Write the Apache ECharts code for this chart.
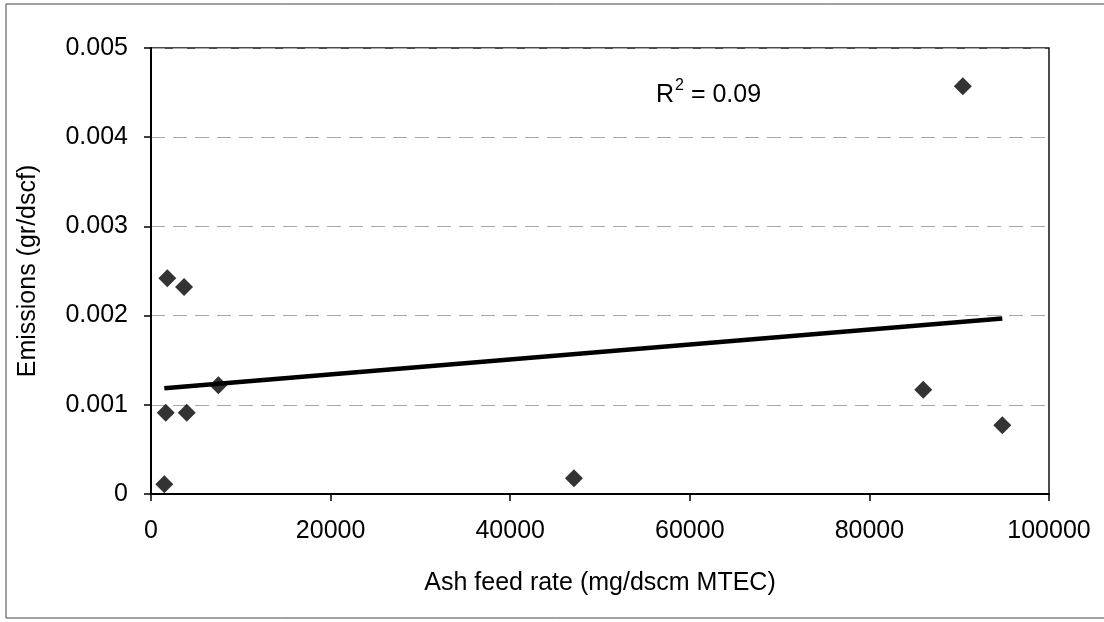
<!DOCTYPE html>
<html>
<head>
<meta charset="utf-8">
<style>
  html, body { margin: 0; padding: 0; background: #fff; }
  #chart { width: 1104px; height: 622px; }
</style>
<script src="https://cdn.jsdelivr.net/npm/echarts@6/dist/echarts.min.js"></script>
</head>
<body>
<div id="chart"></div>
<script>
// Ash feed rate (mg/dscm MTEC) and measured emissions (gr/dscf)
const ashFeed = [1480, 1640, 1820, 3680, 3980, 7500, 47100, 86000, 90400, 94800];
const emissions = [0.00011, 0.00091, 0.00242, 0.00232, 0.00091, 0.00122, 0.000176, 0.00117, 0.00457, 0.00077];

const xTicks = ['0', '20000', '40000', '60000', '80000', '100000'];
const yTicks = ['0', '0.001', '0.002', '0.003', '0.004', '0.005'];
const rSquaredText = '0.09';

// Least-squares linear trendline spanning the data's x range
function linearFit(xs, ys) {
  const n = xs.length;
  const mx = xs.reduce((a, b) => a + b, 0) / n;
  const my = ys.reduce((a, b) => a + b, 0) / n;
  let sxy = 0, sxx = 0;
  for (let i = 0; i < n; i++) {
    sxy += (xs[i] - mx) * (ys[i] - my);
    sxx += (xs[i] - mx) * (xs[i] - mx);
  }
  const slope = sxy / sxx;
  return { slope, intercept: my - slope * mx };
}
const fit = linearFit(ashFeed, emissions);
const xMin = Math.min(...ashFeed), xMax = Math.max(...ashFeed);
const trend = [xMin, xMax].map(x => [x, fit.intercept + fit.slope * x]);

const points = ashFeed.map((x, i) => [x, emissions[i]]);
const FONT = "'Liberation Sans', Arial, sans-serif";

const chart = echarts.init(document.getElementById('chart'), null, { renderer: 'canvas' });
chart.setOption({
  animation: false,
  backgroundColor: '#fff',
  textStyle: { fontFamily: FONT, color: '#000' },
  grid: {
    left: 151, right: 55, top: 48, bottom: 128,
    show: true, borderColor: '#111', borderWidth: 1.5, backgroundColor: 'transparent'
  },
  xAxis: {
    type: 'value', min: 0, max: 100000, interval: 20000,
    name: 'Ash feed rate (mg/dscm MTEC)',
    nameLocation: 'middle', nameGap: 77,
    nameTextStyle: { fontSize: 25, color: '#000', fontFamily: FONT },
    axisLine: { show: true, onZero: false, lineStyle: { color: '#000', width: 2 } },
    axisTick: { show: true, inside: false, length: 7, lineStyle: { color: '#000', width: 1.5 } },
    axisLabel: {
      fontSize: 25, color: '#000', margin: 25, fontFamily: FONT,
      formatter: v => xTicks[Math.round(v / 20000)]
    },
    splitLine: { show: false }
  },
  yAxis: {
    type: 'value', min: 0, max: 0.005, interval: 0.001,
    name: 'Emissions (gr/dscf)',
    nameLocation: 'middle', nameGap: 110,
    nameTextStyle: { fontSize: 25, color: '#000', fontFamily: FONT },
    axisLine: { show: true, onZero: false, lineStyle: { color: '#000', width: 2 } },
    axisTick: { show: true, inside: false, length: 7, lineStyle: { color: '#000', width: 1.5 } },
    axisLabel: {
      fontSize: 25, color: '#000', margin: 23, fontFamily: FONT,
      formatter: v => yTicks[Math.round(v / 0.001)]
    },
    splitLine: { show: true, lineStyle: { color: '#a8a8a8', width: 1, type: [14, 8] } }
  },
  series: [
    {
      type: 'line',
      data: trend,
      symbol: 'none',
      lineStyle: { color: '#000', width: 4.5 },
      z: 2,
      silent: true
    },
    {
      type: 'scatter',
      data: points,
      symbol: 'diamond',
      symbolSize: 18,
      itemStyle: { color: '#000' },
      z: 3
    }
  ],
  graphic: [
    {
      type: 'rect',
      shape: { x: 6, y: 4, width: 1110, height: 614 },
      style: { fill: 'none', stroke: '#444', lineWidth: 1 },
      silent: true, z: 0
    },
    {
      type: 'text',
      left: 656, top: 78,
      style: {
        text: '{a|R}{s|2}{a| = ' + rSquaredText + '}',
        rich: {
          a: { fontSize: 25, fontFamily: FONT, fill: '#000', verticalAlign: 'bottom', lineHeight: 30 },
          s: { fontSize: 16, fontFamily: FONT, fill: '#000', verticalAlign: 'top', lineHeight: 30, padding: [0, 0, 0, 1] }
        }
      },
      z: 10
    }
  ]
});
</script>
</body>
</html>
